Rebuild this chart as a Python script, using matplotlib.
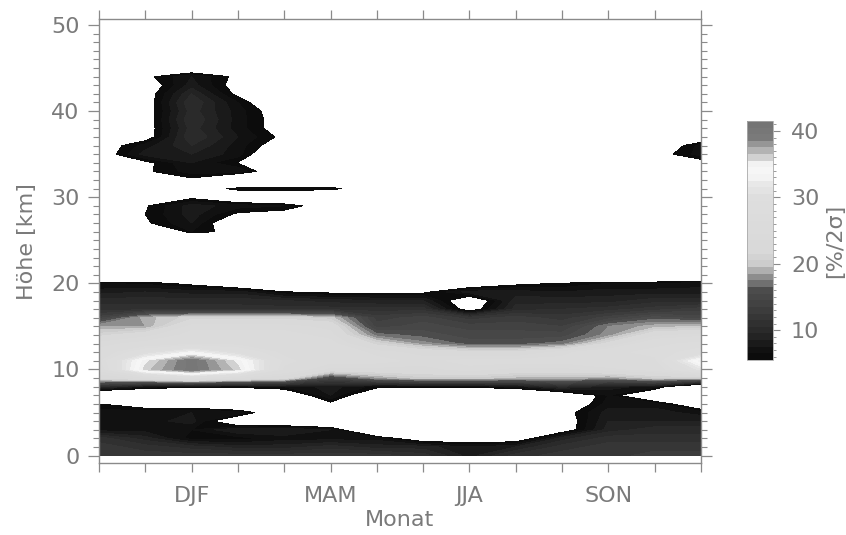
import numpy as np
import matplotlib
matplotlib.use('Agg')
import matplotlib.pyplot as plt
from matplotlib.colors import LinearSegmentedColormap
from matplotlib.ticker import MultipleLocator

# grid: month index along x, altitude in km along y
months = np.arange(14)
heights = np.arange(47)

season_pos = [2, 5, 8, 11]
season_labels = ['DJF', 'MAM', 'JJA', 'SON']

# relative error [%/2sigma], one row per km, 14 month columns
# values below 5.5 are left white
band = [
    [12, 12, 12, 12, 12, 12, 12, 11, 8, 11, 12, 12, 13, 13],            # 0 km
    [12, 11, 10, 9, 9, 10, 9, 9, 7.5, 8.5, 11, 12, 12, 12],             # 1
    [11, 9, 6, 6, 7, 7, 7, 3.5, 3.5, 3.5, 9, 11, 11, 11],                # 2
    [7, 7, 6.5, 8.5, 8.5, 7.5, 0, 0, 0, 0, 4, 9, 10, 10],                # 3
    [7, 7, 8, 2.4, 2, 0, 0, 0, 0, 0, 4, 8.5, 8.5, 8.5],                  # 4
    [7, 7.5, 7.5, 7.5, 2, 0, 0, 0, 0, 0, 4.5, 8, 8, 7],                  # 5
    [5.5, 3.5, 3.5, 0, 0, 5, 0, 0, 0, 0, 3, 7, 7, 3],                    # 6
    [0, 0, 0, 0, 3, 7.5, 2.5, 0, 0, 0, 2.5, 6.5, 2, 0],                  # 7
    [10, 7, 6, 6, 6.5, 8, 6, 6, 6, 7, 10, 8, 7, 0],                      # 8
    [22, 24, 27, 24, 22, 14, 18, 20, 20, 19, 19, 18, 20, 20],            # 9
    [25, 36, 40, 36, 26, 23, 23, 23, 24, 23, 23, 24, 25, 31],            # 10
    [26, 35, 40, 35, 27, 25, 25, 24, 25, 25, 25, 26, 26, 35],            # 11
    [25, 29, 33, 29, 26, 26, 24, 23, 22, 22, 24, 26, 27, 28],            # 12
    [24, 25, 26, 26, 26, 25, 21, 18, 16, 16, 17, 22, 26, 27],            # 13
    [21, 23, 25, 25, 25, 24, 17, 16, 15, 15, 15, 18, 23, 24],            # 14
    [18.5, 18.5, 24, 24, 24, 23, 14, 15, 14, 14, 13.5, 17.5, 19, 19.5],  # 15
    [14, 19, 21, 21, 21, 20, 13, 14, 12, 13, 12, 14, 16, 15],            # 16
    [11, 11, 11, 11, 11, 11, 11, 11, 4, 10, 10.5, 11, 12, 13],           # 17
    [10, 10, 10, 10, 9.5, 9, 8.5, 8.5, 3, 9, 9, 9, 10, 10],              # 18
    [8, 8.5, 8, 8, 5.6, 5, 5, 5, 8, 8, 7.5, 8, 8, 8],                    # 19
    [6.5, 6.2, 4.9, 2.6, 0, 0, 0, 0, 3, 4.9, 5.6, 6.5, 6.5, 7],          # 20
    [0, 0, 0, 0, 0, 0, 0, 0, 0, 0, 0, 0, 0, 0],                          # 21
]

upper = [
    [0, 0, 0, 0, 0, 0, 0, 0, 0, 0, 0, 0, 0, 0],          # 22 km
    [0, 0, 0, 0, 0, 0, 0, 0, 0, 0, 0, 0, 0, 0],          # 23
    [0, 0, 0, 0, 0, 0, 0, 0, 0, 0, 0, 0, 0, 0],          # 24
    [0, 0, 0, 0, 0, 0, 0, 0, 0, 0, 0, 0, 0, 0],          # 25
    [0, 0, 6.5, 4.5, 0, 0, 0, 0, 0, 0, 0, 0, 0, 0],      # 26
    [0, 5.2, 7.5, 3, 0, 0, 0, 0, 0, 0, 0, 0, 0, 0],      # 27
    [0, 5.5, 8, 5.1, 4.5, 2, 0, 0, 0, 0, 0, 0, 0, 0],    # 28
    [0, 5.3, 8, 7, 6.5, 4, 0, 0, 0, 0, 0, 0, 0, 0],      # 29
    [0, 0, 5, 3, 2, 0, 0, 0, 0, 0, 0, 0, 0, 0],          # 30
    [0, 0, 4, 6, 6.5, 6.3, 3, 0, 0, 0, 0, 0, 0, 0],      # 31
    [0, 0, 5, 0, 0, 0, 0, 0, 0, 0, 0, 0, 0, 0],          # 32
    [0, 5.2, 7, 7.5, 2.5, 0, 0, 0, 0, 0, 0, 0, 0, 0],    # 33
    [0, 5, 7.5, 5.4, 0, 0, 0, 0, 0, 0, 0, 0, 0, 4.5],    # 34
    [4, 8, 8.5, 7, 2, 0, 0, 0, 0, 0, 0, 0, 4.5, 7],      # 35
    [4, 7, 9.5, 7, 4, 0, 0, 0, 0, 0, 0, 0, 3, 7],        # 36
    [0, 4.3, 10.5, 7.5, 5, 0, 0, 0, 0, 0, 0, 0, 0, 3],   # 37
    [0, 4.3, 10, 7, 4.3, 0, 0, 0, 0, 0, 0, 0, 0, 0],     # 38
    [0, 4.3, 10.5, 7, 4.3, 0, 0, 0, 0, 0, 0, 0, 0, 0],   # 39
    [0, 4.3, 10, 7, 4, 0, 0, 0, 0, 0, 0, 0, 0, 0],       # 40
    [0, 4.3, 10.5, 6.5, 2.5, 0, 0, 0, 0, 0, 0, 0, 0, 0], # 41
    [0, 4.3, 9.5, 5, 0, 0, 0, 0, 0, 0, 0, 0, 0, 0],      # 42
    [0, 4, 8, 4.5, 0, 0, 0, 0, 0, 0, 0, 0, 0, 0],        # 43
    [0, 5, 7.5, 5, 0, 0, 0, 0, 0, 0, 0, 0, 0, 0],        # 44
    [0, 0, 3, 0, 0, 0, 0, 0, 0, 0, 0, 0, 0, 0],          # 45
    [0, 0, 0, 0, 0, 0, 0, 0, 0, 0, 0, 0, 0, 0],          # 46
]

err = np.array(band + upper, dtype=float)

# grey scale of the colour bar: dark -> light -> white -> grey
cvals = [5.5, 7.5, 8.5, 11.5, 14, 16, 17, 18.5, 20, 22, 30, 32, 33.5, 35, 36, 37.5, 39, 41.5]
greys = [0.04, 0.08, 0.13, 0.20, 0.26, 0.30, 0.45, 0.62, 0.80, 0.85, 0.87, 0.91, 0.97, 0.95, 0.82, 0.66, 0.48, 0.45]
vmin, vmax = 5.5, 41.5
cmap = LinearSegmentedColormap.from_list(
    'err_grey', [((v - vmin) / (vmax - vmin), (g, g, g)) for v, g in zip(cvals, greys)])
levels = np.arange(vmin, vmax + 0.5, 1.0)

plt.rcParams['font.family'] = 'DejaVu Sans'
axcol = '#8a8a8a'
txtcol = '#7a7a7a'

fig = plt.figure(figsize=(8.46, 5.35), dpi=100)
ax = fig.add_axes([0.117, 0.1346, 0.7116, 0.829])
cax = fig.add_axes([0.883, 0.327, 0.0307, 0.447])

cs = ax.contourf(months, heights, err, levels=levels, cmap=cmap, vmin=vmin, vmax=vmax)

ax.set_xlim(0, 13)
ax.set_ylim(-0.86, 50.64)

xlabels = [''] * len(months)
for p, lab in zip(season_pos, season_labels):
    xlabels[p] = lab
ax.set_xticks(months)
ax.set_xticklabels(xlabels)
ax.set_yticks([0, 10, 20, 30, 40, 50])
ax.yaxis.set_minor_locator(MultipleLocator(1))

ax.tick_params(axis='x', which='major', direction='out', length=6.5, width=0.9,
               top=True, color=axcol, labelcolor=txtcol, labelsize=16, pad=10)
ax.tick_params(axis='y', which='major', direction='out', length=8, width=0.9,
               right=True, color=axcol, labelcolor=txtcol, labelsize=16, pad=6)
ax.tick_params(axis='y', which='minor', direction='out', length=4, width=0.8,
               right=True, color=axcol)
for s in ax.spines.values():
    s.set_color(axcol)
    s.set_linewidth(1.0)

ax.set_xlabel('Monat', color=txtcol, fontsize=16, labelpad=3)
ax.set_ylabel('Höhe [km]', color=txtcol, fontsize=16, labelpad=10)

cb = fig.colorbar(cs, cax=cax, ticks=[10, 20, 30, 40])
cb.outline.set_edgecolor('#aaaaaa')
cb.outline.set_linewidth(0.6)
cb.ax.yaxis.set_minor_locator(MultipleLocator(1))
cb.ax.tick_params(which='major', direction='out', length=5, width=0.8, color=axcol,
                  labelcolor=txtcol, labelsize=16, pad=8)
cb.ax.tick_params(which='minor', direction='out', length=2.5, width=0.6, color=axcol)
cb.set_label('[%/2σ]', color=txtcol, fontsize=16, labelpad=4)

fig.savefig('out.png', dpi=100, facecolor='white')
